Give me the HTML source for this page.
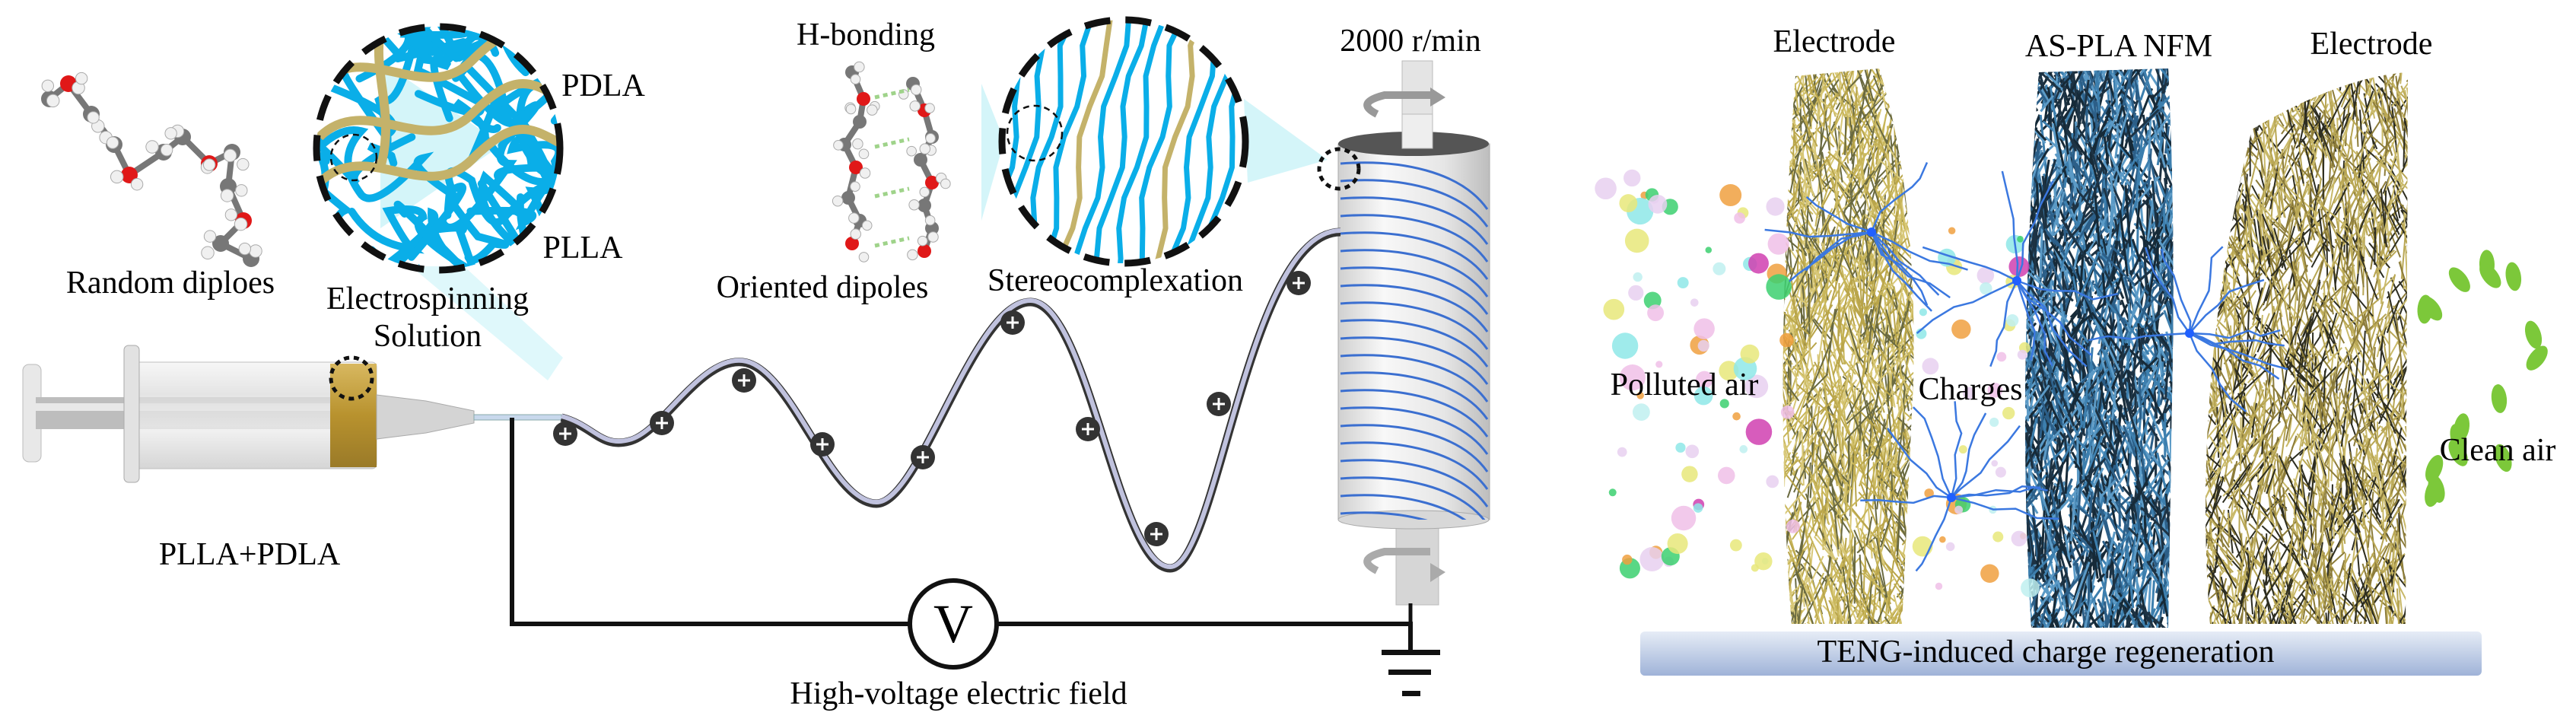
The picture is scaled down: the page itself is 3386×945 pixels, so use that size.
<!DOCTYPE html>
<html><head><meta charset="utf-8">
<style>
html,body{margin:0;padding:0;background:#fff;}
#wrap{position:relative;width:3386px;height:945px;overflow:hidden;background:#fff;}
svg{position:absolute;left:0;top:0;}
.t{position:absolute;font-family:"Liberation Serif","Times New Roman",Times,serif;color:#000;white-space:nowrap;transform:translate(-50%,-50%);font-size:42px;line-height:1;}
</style></head><body>
<div id="wrap">
<svg id="s" width="3386" height="945" viewBox="0 0 3386 945" xmlns="http://www.w3.org/2000/svg">
<defs>
<linearGradient id="barrel" x1="0" y1="0" x2="0" y2="1">
<stop offset="0" stop-color="#f4f4f4"/><stop offset="0.3" stop-color="#dcdcdc"/><stop offset="0.6" stop-color="#f0f0f0"/><stop offset="1" stop-color="#c8c8c8"/></linearGradient>
<linearGradient id="gold" x1="0" y1="0" x2="0" y2="1">
<stop offset="0" stop-color="#d8b860"/><stop offset="0.5" stop-color="#b8922e"/><stop offset="1" stop-color="#9a7a28"/></linearGradient>
<linearGradient id="cyl" x1="0" y1="0" x2="1" y2="0">
<stop offset="0" stop-color="#d0d0d0"/><stop offset="0.3" stop-color="#f8f8f8"/><stop offset="0.7" stop-color="#e6e6e6"/><stop offset="1" stop-color="#bdbdbd"/></linearGradient>
<linearGradient id="bar" x1="0" y1="0" x2="0" y2="1">
<stop offset="0" stop-color="#e6ecf6"/><stop offset="1" stop-color="#9fb3d8"/></linearGradient>
<clipPath id="c1"><circle cx="576" cy="195" r="160"/></clipPath>
<clipPath id="c2"><circle cx="1477" cy="186" r="160"/></clipPath>
<clipPath id="cy"><rect x="1759" y="189" width="199" height="494"/></clipPath>
<clipPath id="m1"><path d="M2360,100 L2470,90 Q2520,250 2515,500 L2500,820 L2355,820 Q2330,500 2360,100Z"/></clipPath>
<clipPath id="m2"><path d="M2680,95 L2850,90 Q2860,300 2855,520 L2850,825 L2670,825 Q2650,500 2680,95Z"/></clipPath>
<clipPath id="m3"><path d="M2960,170 Q3080,100 3165,95 L3162,820 L2905,820 Q2880,500 2960,170Z"/></clipPath>
</defs>
<polygon points="500,80 660,190 500,300" fill="#c9f3f8" opacity="0.8"/>
<polygon points="1290,110 1320,185 1290,290" fill="#c9f3f8" opacity="0.8"/>
<polygon points="1635,130 1745,210 1640,240" fill="#c9f3f8" opacity="0.8"/>
<polygon points="540,350 610,350 740,470 720,500" fill="#c9f3f8" opacity="0.6"/>
<g id="fib1" clip-path="url(#c1)"></g>
<g id="fib2" clip-path="url(#c2)"></g>
<circle cx="576" cy="195" r="160" fill="none" stroke="#111" stroke-width="9" stroke-dasharray="34 20"/>
<circle cx="1477" cy="186" r="160" fill="none" stroke="#111" stroke-width="9" stroke-dasharray="34 20"/>
<circle cx="465" cy="207" r="30" fill="none" stroke="#111" stroke-width="2.5" stroke-dasharray="8 6"/>
<circle cx="1360" cy="175" r="36" fill="none" stroke="#111" stroke-width="2.5" stroke-dasharray="8 6"/>
<g id="mol"></g>
<rect x="1843" y="80" width="40" height="120" fill="#e4e4e4" stroke="#bbb"/>
<rect x="1835" y="680" width="56" height="115" fill="#d6d6d6" stroke="#bbb"/>
<rect x="1759" y="189" width="199" height="494" fill="url(#cyl)" stroke="#aaa"/>
<ellipse cx="1858" cy="683" rx="99" ry="12" fill="#d8d8d8" stroke="#aaa"/>
<ellipse cx="1858" cy="189" rx="99" ry="16" fill="#555"/>
<rect x="1843" y="150" width="40" height="45" fill="#eee" stroke="#bbb"/>
<g id="coil" stroke="#3b6fd0" stroke-width="3" fill="none" clip-path="url(#cy)"></g>
<path d="M1810,150 q-30,-15 10,-25 l60,0" fill="none" stroke="#999" stroke-width="10"/>
<polygon points="1880,115 1900,128 1880,140" fill="#999"/>
<path d="M1810,750 q-30,-15 10,-25 l60,0" fill="none" stroke="#aaa" stroke-width="10"/>
<polygon points="1880,740 1900,752 1880,765" fill="#aaa"/>
<circle cx="1760" cy="222" r="26" fill="none" stroke="#111" stroke-width="5" stroke-dasharray="7 6"/>
<rect x="30" y="479" width="24" height="128" rx="8" fill="#e8e8e8" stroke="#bbb"/>
<rect x="47" y="522" width="390" height="42" fill="#bdbdbd"/>
<rect x="47" y="530" width="390" height="10" fill="#e8e8e8"/>
<rect x="176" y="476" width="319" height="140" rx="6" fill="url(#barrel)" opacity="0.75" stroke="#aaa"/>
<rect x="163" y="454" width="20" height="180" rx="6" fill="#e2e2e2" stroke="#aaa"/>
<rect x="434" y="478" width="61" height="136" fill="url(#gold)"/>
<polygon points="495,519 560,527 623,540 623,556 560,569 495,577" fill="#d4d4d4" stroke="#aaa"/>
<rect x="623" y="545" width="115" height="7" fill="#c8d8ec" stroke="#8aa"/>
<circle cx="462" cy="497" r="27" fill="none" stroke="#111" stroke-width="5" stroke-dasharray="7 6"/>
<path d="M738,549 C780,560 790,590 827,580 C870,570 920,470 976,476 C1040,482 1090,662 1152,662 C1210,662 1280,395 1355,397 C1430,399 1470,747 1538,747 C1600,747 1640,305 1762,305" fill="none" stroke="#333" stroke-width="11"/>
<path d="M738,547 C780,558 790,588 827,578 C870,568 920,468 976,474 C1040,480 1090,660 1152,660 C1210,660 1280,393 1355,395 C1430,397 1470,745 1538,745 C1600,745 1640,303 1762,303" fill="none" stroke="#c0c2de" stroke-width="6"/>
<g id="plus"></g>
<polyline points="673,549 673,820 1854,820 1854,857" fill="none" stroke="#111" stroke-width="6"/>
<line x1="1854" y1="793" x2="1854" y2="820" stroke="#111" stroke-width="5"/>
<circle cx="1253" cy="820" r="57" fill="#fff" stroke="#111" stroke-width="6"/>
<rect x="1816" y="854" width="77" height="7" fill="#111"/>
<rect x="1825" y="880" width="56" height="7" fill="#111"/>
<rect x="1843" y="908" width="24" height="7" fill="#111"/>
<g id="mat1" clip-path="url(#m1)"></g>
<g id="mat2" clip-path="url(#m2)"></g>
<g id="mat3" clip-path="url(#m3)"></g>
<g id="right"></g>
<rect x="2156" y="830" width="1106" height="58" rx="6" fill="url(#bar)"/>
</svg>
<div class="t" style="left:224px;top:372px">Random diploes</div>
<div class="t" style="left:793px;top:113px">PDLA</div>
<div class="t" style="left:766px;top:326px">PLLA</div>
<div class="t" style="left:562px;top:393px">Electrospinning</div>
<div class="t" style="left:562px;top:442px">Solution</div>
<div class="t" style="left:1138px;top:46px">H-bonding</div>
<div class="t" style="left:1081px;top:378px">Oriented dipoles</div>
<div class="t" style="left:1466px;top:369px">Stereocomplexation</div>
<div class="t" style="left:1854px;top:54px">2000 r/min</div>
<div class="t" style="left:328px;top:729px">PLLA+PDLA</div>
<div class="t" style="left:1253px;top:820px;font-size:72px">V</div>
<div class="t" style="left:1260px;top:912px">High-voltage electric field</div>
<div class="t" style="left:2411px;top:55px">Electrode</div>
<div class="t" style="left:2785px;top:61px">AS-PLA NFM</div>
<div class="t" style="left:3117px;top:58px">Electrode</div>
<div class="t" style="left:2214px;top:506px">Polluted air</div>
<div class="t" style="left:2590px;top:512px">Charges</div>
<div class="t" style="left:3283px;top:592px">Clean air</div>
<div class="t" style="left:2689px;top:857px">TENG-induced charge regeneration</div>
</div>
<script>
var NS="http://www.w3.org/2000/svg";
var seed=7;function R(){seed=(seed*16807)%2147483647;return (seed-1)/2147483646;}
function el(p,n,a){var e=document.createElementNS(NS,n);for(var k in a)e.setAttribute(k,a[k]);p.appendChild(e);return e;}
var f1=document.getElementById('fib1');
for(var i=0;i<32;i++){var x=400+R()*350,y=20+R()*350,d="M"+x+","+y;for(var j=0;j<4;j++){x+=(R()-0.5)*180;y+=(R()-0.5)*180;d+=" Q"+(x+(R()-0.5)*90)+","+(y+(R()-0.5)*90)+" "+x+","+y;}
el(f1,'path',{d:d,fill:'none',stroke:'#0aaee8','stroke-width':10,'stroke-linecap':'round'});}
[80,150,210].forEach(function(y){el(f1,'path',{d:"M420,"+(y+30)+" C480,"+(y-30)+" 560,"+(y+60)+" 620,"+(y)+" S700,"+(y-40)+" 740,"+(y-20),fill:'none',stroke:'#c4b26a','stroke-width':12});});
el(f1,'path',{d:"M500,40 C490,100 520,150 500,220",fill:'none',stroke:'#c4b26a','stroke-width':12});
var f2=document.getElementById('fib2');
for(var i=0;i<16;i++){var x=1310+i*24;var d="M"+(x+30)+",20";for(var y=60;y<=380;y+=40){d+=" L"+(x+30-(y/380)*70+Math.sin(y/30+i)*8)+","+y;}
el(f2,'path',{d:d,fill:'none',stroke:(i==5||i==10)?'#c4b26a':'#0aaee8','stroke-width':7,'stroke-linejoin':'round'});}
var m=document.getElementById('mol');
function mol(pts,s){for(var i=0;i<pts.length-1;i++)el(m,'line',{x1:pts[i][0],y1:pts[i][1],x2:pts[i+1][0],y2:pts[i+1][1],stroke:'#777','stroke-width':8});
pts.forEach(function(p,k){var c=k%3==1?'#e01818':'#777';el(m,'circle',{cx:p[0],cy:p[1],r:s,fill:c});el(m,'circle',{cx:p[0]+(R()-0.5)*36,cy:p[1]+(R()-0.5)*36,r:s*0.75,fill:'#f0f0f0',stroke:'#aaa'});el(m,'circle',{cx:p[0]+(R()-0.5)*36,cy:p[1]+(R()-0.5)*36,r:s*0.7,fill:'#f0f0f0',stroke:'#aaa'});});}
mol([[65,130],[90,110],[120,150],[150,190],[170,230],[215,200],[240,180],[275,215],[305,200],[300,245],[320,290],[290,320],[330,340]],11);
mol([[1120,95],[1135,130],[1130,160],[1110,190],[1125,220],[1115,260],[1130,290],[1120,320]],9);
mol([[1200,110],[1215,145],[1225,180],[1210,210],[1225,240],[1215,270],[1225,300],[1215,330]],9);
for(var i=0;i<4;i++){el(m,'line',{x1:1150,y1:128+i*65,x2:1195,y2:118+i*65,stroke:'#9fd38a','stroke-width':5,'stroke-dasharray':'6 5'});}
var c=document.getElementById('coil');
for(var i=0;i<21;i++){var y=215+i*23;el(c,'path',{d:"M1762,"+y+" C1840,"+(y-6)+" 1920,"+(y+10)+" 1955,"+(y+60)});}
var P=[[743,570],[870,556],[978,500],[1081,584],[1213,601],[1331,424],[1430,564],[1520,702],[1602,531],[1707,372]];
var pg=document.getElementById('plus');
P.forEach(function(p){el(pg,'circle',{cx:p[0],cy:p[1],r:16,fill:'#333'});el(pg,'path',{d:"M"+(p[0]-8)+","+p[1]+"h16M"+p[0]+","+(p[1]-8)+"v16",stroke:'#fff','stroke-width':3});});
var rg=document.getElementById('right');
function mat(g,x0,x1,y0,y1,cols,n,w){g=document.getElementById(g);for(var i=0;i<n;i++){var x=x0+R()*(x1-x0),y=y0+R()*(y1-y0),a=(R()-0.5)*2.2+Math.PI/2,L=30+R()*60;
el(g,'line',{x1:x,y1:y,x2:x+Math.cos(a)*L*0.6,y2:y+Math.sin(a)*L,stroke:cols[Math.floor(R()*cols.length)],'stroke-width':w});}}
mat('mat1',2320,2540,60,830,['#c8b65a','#b9a54a','#d8c878','#6a6a40'],1800,2);
mat('mat2',2640,2880,60,830,['#3d7fae','#2c5f88','#1d3344','#5b9ac6','#162a38'],2000,3);
mat('mat3',2880,3180,60,830,['#b8a654','#2d2d20','#8c7c3a','#c9b969'],2000,2);
var pc=['#e8e87a','#8ee8e8','#d040b0','#3cd070','#f0c0e8','#f0a040','#c0f0f0','#e8d0f0'];
for(var i=0;i<70;i++){var x=2110+R()*250,y=230+R()*520;el(rg,'circle',{cx:x,cy:y,r:4+R()*14,fill:pc[Math.floor(R()*pc.length)],opacity:0.85});}
for(var i=0;i<40;i++){var x=2520+R()*150,y=280+R()*500;el(rg,'circle',{cx:x,cy:y,r:4+R()*10,fill:pc[Math.floor(R()*pc.length)],opacity:0.85});}
function bolt(cx,cy){for(var k=0;k<10;k++){var a=R()*6.28,x=cx,y=cy,d="M"+x+","+y;for(var j=0;j<5;j++){x+=Math.cos(a)*25+(R()-0.5)*20;y+=Math.sin(a)*25+(R()-0.5)*20;d+=" L"+x+","+y;}
el(rg,'path',{d:d,fill:'none',stroke:'#3b78e0','stroke-width':2.5});}el(rg,'circle',{cx:cx,cy:cy,r:6,fill:'#2060ff'});}
bolt(2460,305);bolt(2651,369);bolt(2878,438);bolt(2565,654);
for(var i=0;i<16;i++){var x=3180+R()*170,y=320+R()*330;el(rg,'ellipse',{cx:x,cy:y,rx:10,ry:19,fill:'#7cc83a',transform:"rotate("+(R()*90-45)+" "+x+" "+y+")"});}
</script>
</body></html>
